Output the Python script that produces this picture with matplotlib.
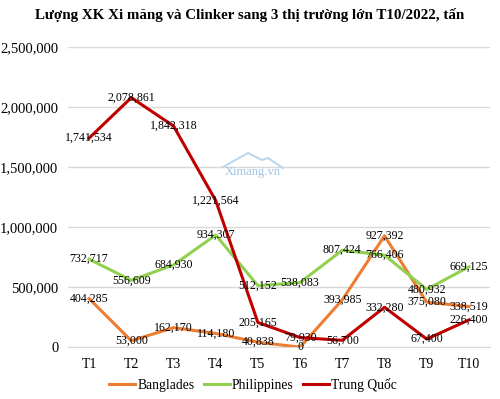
import matplotlib
matplotlib.use("Agg")
import matplotlib.pyplot as plt
from matplotlib.ticker import FuncFormatter

months = ["T1", "T2", "T3", "T4", "T5", "T6", "T7", "T8", "T9", "T10"]
banglades = [404285, 53000, 162170, 114180, 40838, 0, 393985, 927392, 375080, 338519]
philippines = [732717, 556609, 684930, 934307, 512152, 538083, 807424, 766406, 480932, 669125]
trung_quoc = [1741534, 2078861, 1842318, 1221564, 205165, 79930, 56700, 332280, 67400, 226400]

series = [
    ("Banglades", banglades, "#ED7D31"),
    ("Philippines", philippines, "#92D050"),
    ("Trung Quốc", trung_quoc, "#C00000"),
]

plt.rcParams["font.family"] = ["Liberation Serif", "DejaVu Serif"]

fig = plt.figure(figsize=(5, 3.99), dpi=100)
ax = fig.add_axes([0.136, 0.130, 0.844, 0.752])

x = list(range(len(months)))
for name, vals, col in series:
    ax.plot(x, vals, color=col, lw=2.2, label=name, zorder=3)
for name, vals, col in series:
    for xi, v in zip(x, vals):
        ax.text(xi, v, f"{v:,}", ha="center", va="center", fontsize=8.6,
                color="black", zorder=5)

# watermark (logo roof + text)
roof_x = [223, 248, 262, 268, 283]
roof_y = [167, 153, 160, 158, 168]
fig.add_artist(plt.Line2D([px / 500 for px in roof_x], [1 - py / 399 for py in roof_y],
                          transform=fig.transFigure, color="#BDD7EE", lw=1.5, zorder=1))
fig.text(253 / 500, 1 - 172 / 399, "Ximang.vn", ha="center", va="center", fontsize=9,
         color="#9DC3E6", zorder=1)

ax.set_xlim(-0.5, 9.5)
ax.set_ylim(0, 2500000)
ax.set_yticks(range(0, 2500001, 500000))
ax.yaxis.set_major_formatter(FuncFormatter(lambda v, p: f"{int(v):,}"))
ax.set_xticks(x)
ax.set_xticklabels(months)
ax.tick_params(axis="y", length=0, labelsize=10.5, pad=7)
ax.tick_params(axis="x", length=0, labelsize=10, pad=8)
ax.grid(axis="y", color="#D9D9D9", lw=1.0)
ax.set_axisbelow(True)
for s in ["top", "right", "left"]:
    ax.spines[s].set_visible(False)
ax.spines["bottom"].set_color("#D9D9D9")

fig.text(0.5, 0.962, "Lượng XK Xi măng và Clinker sang 3 thị trường lớn T10/2022, tấn",
         ha="center", va="center", fontsize=10.8, fontweight="bold")

fig.legend(loc="center", bbox_to_anchor=(0.506, 0.035), ncol=3, frameon=False,
           fontsize=9.8, handlelength=1.9, columnspacing=0.7, handletextpad=0.15)

fig.savefig("out.png", dpi=100)
